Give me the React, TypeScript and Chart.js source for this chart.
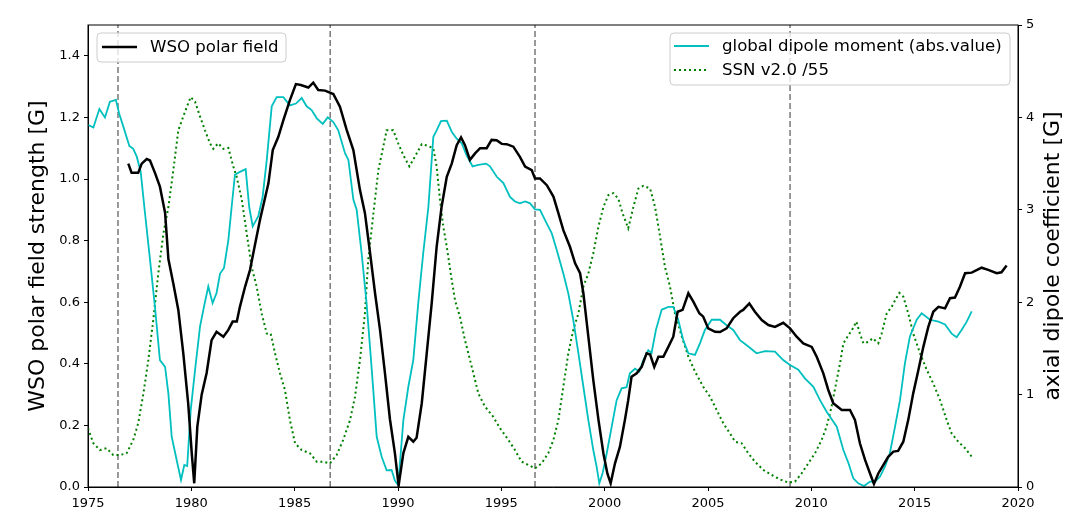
import { useEffect, useRef } from "react";
import { Chart, registerables } from "chart.js";

Chart.register(...registerables);

// WSO polar field strength [G], left axis
const wsoYears = [
  1976.95, 1977.11, 1977.43, 1977.6, 1977.84, 1978.0, 1978.24, 1978.48, 1978.73, 1978.89,
  1979.13, 1979.37, 1979.61, 1979.85, 1980.02, 1980.14, 1980.29, 1980.5, 1980.74, 1980.98,
  1981.22, 1981.55, 1981.79, 1982.0, 1982.2, 1982.35, 1982.6, 1982.84, 1983.0, 1983.32,
  1983.73, 1983.94, 1984.21, 1984.45, 1984.77, 1985.06, 1985.3, 1985.66, 1985.9, 1986.14,
  1986.47, 1986.87, 1987.19, 1987.52, 1987.84, 1988.16, 1988.4, 1988.65, 1988.89, 1989.13,
  1989.37, 1989.61, 1989.85, 1990.03, 1990.26, 1990.5, 1990.74, 1990.9, 1991.15, 1991.39,
  1991.63, 1991.87, 1992.11, 1992.36, 1992.6, 1992.84, 1993.05, 1993.24, 1993.48, 1993.73,
  1993.97, 1994.29, 1994.53, 1994.77, 1995.02, 1995.26, 1995.58, 1995.9, 1996.15, 1996.47,
  1996.63, 1996.87, 1997.2, 1997.52, 1997.76, 1998.0, 1998.32, 1998.57, 1998.81, 1998.97,
  1999.21, 1999.45, 1999.7, 1999.94, 2000.13, 2000.29, 2000.5, 2000.74, 2000.98, 2001.14,
  2001.3, 2001.55, 2001.79, 2002.03, 2002.2, 2002.4, 2002.6, 2002.84, 2003.08, 2003.32,
  2003.53, 2003.77, 2004.05, 2004.29, 2004.58, 2004.77, 2005.01, 2005.34, 2005.58, 2005.9,
  2006.22, 2006.55, 2006.7, 2007.0, 2007.27, 2007.6, 2007.92, 2008.24, 2008.64, 2008.97,
  2009.29, 2009.61, 2010.02, 2010.26, 2010.58, 2010.82, 2011.06, 2011.47, 2011.87, 2012.11,
  2012.35, 2012.6, 2012.84, 2013.03, 2013.24, 2013.48, 2013.72, 2013.97, 2014.2, 2014.45,
  2014.69, 2014.93, 2015.18, 2015.42, 2015.66, 2015.9, 2016.15, 2016.47, 2016.71, 2016.95,
  2017.19, 2017.44, 2017.76, 2018.24, 2018.56, 2018.97, 2019.2, 2019.45,
];
const wsoValues = [
  1.05, 1.02, 1.02, 1.05, 1.065, 1.06, 1.02, 0.975, 0.89, 0.74,
  0.66, 0.575, 0.435, 0.27, 0.11, 0.012, 0.196, 0.3, 0.37, 0.477,
  0.504, 0.488, 0.51, 0.537, 0.537, 0.585, 0.65, 0.705, 0.76, 0.867,
  0.986, 1.094, 1.137, 1.19, 1.256, 1.308, 1.305, 1.297, 1.313, 1.289,
  1.287, 1.276, 1.235, 1.159, 1.094, 0.964, 0.889, 0.759, 0.629, 0.51,
  0.369, 0.22, 0.11, 0.005, 0.11, 0.163, 0.147, 0.16, 0.272, 0.434,
  0.596, 0.78, 0.91, 1.007, 1.05, 1.11, 1.135, 1.11, 1.062, 1.083,
  1.1, 1.1, 1.127, 1.126, 1.114, 1.113, 1.105, 1.072, 1.04, 1.029,
  1.002, 1.002, 0.98, 0.943, 0.889, 0.834, 0.78, 0.726, 0.694, 0.629,
  0.488, 0.347, 0.218, 0.109, 0.044, 0.012, 0.077, 0.131, 0.218, 0.282,
  0.358, 0.369, 0.39, 0.434, 0.43, 0.39, 0.423, 0.423, 0.455, 0.488,
  0.569, 0.575, 0.629, 0.602, 0.564, 0.553, 0.515, 0.504, 0.503, 0.515,
  0.548, 0.569, 0.575, 0.596, 0.569, 0.542, 0.526, 0.52, 0.533, 0.515,
  0.488, 0.466, 0.455, 0.423, 0.369, 0.315, 0.272, 0.25, 0.25, 0.218,
  0.142, 0.088, 0.044, 0.01, 0.044, 0.071, 0.098, 0.115, 0.117, 0.147,
  0.218, 0.304, 0.38, 0.455, 0.52, 0.569, 0.585, 0.58, 0.613, 0.615,
  0.65, 0.694, 0.696, 0.712, 0.705, 0.694, 0.697, 0.719,
];

// global dipole moment (abs. value) [G], right axis
const dipoleYears = [
  1975.0, 1975.26, 1975.55, 1975.82, 1976.06, 1976.35, 1976.52, 1976.71, 1977.0, 1977.19,
  1977.36, 1977.55, 1977.76, 1978.0, 1978.24, 1978.48, 1978.73, 1978.89, 1979.05, 1979.29,
  1979.5, 1979.66, 1979.8, 1979.97, 1980.18, 1980.42, 1980.61, 1980.82, 1981.03, 1981.22,
  1981.39, 1981.58, 1981.79, 1981.95, 1982.11, 1982.35, 1982.63, 1982.8, 1982.97, 1983.24,
  1983.45, 1983.65, 1983.89, 1984.13, 1984.45, 1984.77, 1985.06, 1985.34, 1985.58, 1985.82,
  1986.07, 1986.36, 1986.6, 1986.87, 1987.11, 1987.44, 1987.6, 1987.84, 1988.0, 1988.24,
  1988.48, 1988.73, 1988.97, 1989.21, 1989.45, 1989.69, 1989.85, 1990.01, 1990.26, 1990.5,
  1990.74, 1990.98, 1991.22, 1991.47, 1991.71, 1991.87, 1992.08, 1992.36, 1992.6, 1992.84,
  1993.08, 1993.32, 1993.61, 1993.89, 1994.26, 1994.45, 1994.77, 1995.1, 1995.42, 1995.66,
  1995.9, 1996.15, 1996.39, 1996.63, 1996.87, 1997.2, 1997.44, 1997.68, 1998.0, 1998.24,
  1998.48, 1998.73, 1998.97, 1999.21, 1999.45, 1999.61, 1999.74, 1999.9, 2000.1, 2000.34,
  2000.58, 2000.82, 2001.06, 2001.22, 2001.47, 2001.68, 2001.87, 2002.11, 2002.27, 2002.48,
  2002.76, 2003.08, 2003.32, 2003.56, 2003.8, 2004.05, 2004.37, 2004.61, 2004.85, 2005.18,
  2005.58, 2005.9, 2006.22, 2006.55, 2006.95, 2007.35, 2007.76, 2008.24, 2008.64, 2008.97,
  2009.37, 2009.69, 2010.1, 2010.42, 2010.74, 2011.23, 2011.55, 2011.8, 2012.03, 2012.27,
  2012.55, 2012.84, 2013.08, 2013.32, 2013.56, 2013.8, 2014.05, 2014.29, 2014.53, 2014.77,
  2015.1, 2015.34, 2015.74, 2016.15, 2016.47, 2016.79, 2017.03, 2017.27, 2017.52, 2017.76,
];
const dipoleValues = [
  3.92, 3.89, 4.09, 4.0, 4.17, 4.19, 4.03, 3.9, 3.69, 3.66,
  3.575, 3.41, 2.96, 2.46, 1.95, 1.374, 1.3, 1.01, 0.544, 0.292,
  0.076, 0.238, 0.227, 0.833, 1.266, 1.735, 1.95, 2.17, 1.99, 2.1,
  2.31, 2.37, 2.67, 3.03, 3.38, 3.41, 3.44, 3.03, 2.82, 2.93,
  3.14, 3.54, 4.12, 4.22, 4.22, 4.13, 4.15, 4.21, 4.12, 4.08,
  3.99, 3.93, 4.0, 3.95, 3.86, 3.61, 3.54, 3.11, 3.0, 2.53,
  1.99, 1.27, 0.544, 0.328, 0.18, 0.184, 0.07, 0.02, 0.725, 1.085,
  1.374, 1.99, 2.53, 3.03, 3.79, 3.86, 3.96, 3.964, 3.845, 3.77,
  3.72, 3.59, 3.47, 3.485, 3.5, 3.47, 3.36, 3.29, 3.14, 3.09,
  3.07, 3.09, 3.07, 3.005, 3.0, 2.85, 2.745, 2.565, 2.31, 2.096,
  1.81, 1.447, 1.085, 0.725, 0.4, 0.22, 0.04, 0.148, 0.365, 0.653,
  0.94, 1.068, 1.08, 1.23, 1.28, 1.25, 1.374, 1.48, 1.45, 1.7,
  1.92, 1.95, 1.95, 1.81, 1.59, 1.447, 1.43, 1.555, 1.7, 1.81,
  1.81, 1.75, 1.7, 1.59, 1.52, 1.447, 1.47, 1.465, 1.374, 1.32,
  1.27, 1.176, 1.085, 0.94, 0.815, 0.653, 0.4, 0.256, 0.094, 0.04,
  0.01, 0.058, 0.058, 0.11, 0.22, 0.365, 0.653, 0.94, 1.34, 1.63,
  1.81, 1.88, 1.81, 1.79, 1.76, 1.66, 1.62, 1.7, 1.79, 1.9,
];

// SSN v2.0 / 55, right axis
const ssnYears = [
  1975.0, 1975.26, 1975.58, 1975.9, 1976.22, 1976.55, 1976.87, 1977.19, 1977.43, 1977.68,
  1977.92, 1978.16, 1978.4, 1978.65, 1978.89, 1979.13, 1979.37, 1979.61, 1979.81, 1979.97,
  1980.18, 1980.42, 1980.66, 1980.9, 1981.06, 1981.3, 1981.55, 1981.79, 1982.03, 1982.19,
  1982.44, 1982.68, 1982.92, 1983.16, 1983.4, 1983.65, 1983.84, 1984.05, 1984.29, 1984.53,
  1984.77, 1985.02, 1985.34, 1985.74, 1986.07, 1986.39, 1986.71, 1987.03, 1987.35, 1987.68,
  1987.92, 1988.16, 1988.4, 1988.56, 1988.81, 1989.05, 1989.21, 1989.45, 1989.77, 1990.01,
  1990.26, 1990.55, 1990.82, 1991.15, 1991.47, 1991.71, 1991.87, 1992.03, 1992.19, 1992.36,
  1992.6, 1992.76, 1993.0, 1993.24, 1993.57, 1993.89, 1994.21, 1994.61, 1994.94, 1995.34,
  1995.66, 1995.98, 1996.31, 1996.63, 1996.95, 1997.27, 1997.52, 1997.76, 1998.0, 1998.24,
  1998.48, 1998.73, 1998.97, 1999.21, 1999.45, 1999.7, 1999.94, 2000.18, 2000.42, 2000.66,
  2000.87, 2001.14, 2001.39, 2001.63, 2001.87, 2002.2, 2002.44, 2002.68, 2002.92, 2003.16,
  2003.4, 2003.73, 2004.05, 2004.37, 2004.77, 2005.1, 2005.42, 2005.74, 2006.06, 2006.31,
  2006.63, 2006.95, 2007.27, 2007.68, 2008.08, 2008.48, 2008.89, 2009.21, 2009.53, 2009.85,
  2010.18, 2010.5, 2010.74, 2010.98, 2011.23, 2011.39, 2011.55, 2011.8, 2011.97, 2012.18,
  2012.35, 2012.52, 2012.76, 2012.97, 2013.24, 2013.4, 2013.65, 2013.89, 2014.05, 2014.26,
  2014.45, 2014.69, 2014.93, 2015.26, 2015.58, 2015.9, 2016.23, 2016.55, 2016.79, 2017.11,
  2017.44, 2017.76,
];
const ssnValues = [
  0.635, 0.473, 0.4, 0.42, 0.346, 0.346, 0.365, 0.51, 0.69, 1.01,
  1.374, 1.81, 2.31, 2.745, 3.03, 3.43, 3.86, 4.01, 4.13, 4.22,
  4.17, 4.01, 3.86, 3.72, 3.66, 3.72, 3.66, 3.67, 3.47, 3.36,
  3.11, 2.745, 2.38, 2.17, 1.88, 1.66, 1.66, 1.447, 1.23, 1.05,
  0.725, 0.473, 0.4, 0.365, 0.274, 0.274, 0.256, 0.346, 0.51, 0.725,
  0.977, 1.374, 1.88, 2.46, 2.96, 3.43, 3.6, 3.86, 3.86, 3.72,
  3.59, 3.47, 3.575, 3.71, 3.69, 3.665, 3.47, 3.11, 2.82, 2.6,
  2.24, 2.02, 1.84, 1.59, 1.3, 1.01, 0.87, 0.76, 0.635, 0.51,
  0.4, 0.274, 0.238, 0.202, 0.256, 0.365, 0.51, 0.725, 1.085, 1.447,
  1.7, 1.88, 2.17, 2.31, 2.53, 2.82, 3.03, 3.16, 3.18, 3.12,
  2.96, 2.8, 3.03, 3.23, 3.26, 3.23, 3.03, 2.71, 2.38, 2.17,
  1.88, 1.63, 1.41, 1.25, 1.085, 0.977, 0.833, 0.69, 0.58, 0.49,
  0.473, 0.365, 0.274, 0.184, 0.13, 0.083, 0.047, 0.058, 0.148, 0.256,
  0.365, 0.51, 0.653, 0.87, 1.16, 1.34, 1.555, 1.645, 1.7, 1.79,
  1.66, 1.555, 1.57, 1.61, 1.555, 1.66, 1.88, 1.95, 2.02, 2.1,
  2.06, 1.88, 1.66, 1.447, 1.27, 1.12, 0.94, 0.725, 0.58, 0.49,
  0.42, 0.328,
];

// cycle minima, dashed vertical lines
const cycleMinima = [1976.45, 1986.72, 1996.63, 2008.97];

const xTicks = [1975, 1980, 1985, 1990, 1995, 2000, 2005, 2010, 2015, 2020];
const leftTicks = [0, 0.2, 0.4, 0.6, 0.8, 1.0, 1.2, 1.4];
const rightTicks = [0, 1, 2, 3, 4, 5];

const FONT = '"DejaVu Sans", sans-serif';

const pts = (xs: number[], ys: number[]) => xs.map((x, i) => ({ x, y: ys[i] }));

const overlayPlugin = {
  id: "overlay",
  afterDraw(chart: Chart) {
    const { ctx, chartArea: a } = chart;
    ctx.save();
    ctx.strokeStyle = "#000";
    ctx.lineWidth = 1;
    ctx.strokeRect(a.left, a.top, a.right - a.left, a.bottom - a.top);

    ctx.fillStyle = "#000";
    ctx.font = `22px ${FONT}`;
    ctx.textAlign = "center";
    ctx.textBaseline = "middle";
    const midY = (a.top + a.bottom) / 2;
    ctx.save();
    ctx.translate(38, midY);
    ctx.rotate(-Math.PI / 2);
    ctx.fillText("WSO polar field strength [G]", 0, 0);
    ctx.restore();
    ctx.save();
    ctx.translate(1053, midY);
    ctx.rotate(-Math.PI / 2);
    ctx.fillText("axial dipole coefficient [G]", 0, 0);
    ctx.restore();

    const box = (x: number, y: number, w: number, h: number) => {
      ctx.beginPath();
      ctx.roundRect(x, y, w, h, 4);
      ctx.fillStyle = "rgba(255,255,255,0.8)";
      ctx.fill();
      ctx.strokeStyle = "#cccccc";
      ctx.lineWidth = 1;
      ctx.stroke();
    };
    const entry = (x: number, y: number, color: string, width: number, dash: number[], label: string) => {
      ctx.beginPath();
      ctx.setLineDash(dash);
      ctx.strokeStyle = color;
      ctx.lineWidth = width;
      ctx.moveTo(x, y);
      ctx.lineTo(x + 35, y);
      ctx.stroke();
      ctx.setLineDash([]);
      ctx.fillStyle = "#000";
      ctx.font = `16.6px ${FONT}`;
      ctx.textAlign = "left";
      ctx.textBaseline = "middle";
      ctx.fillText(label, x + 48, y + 1);
    };
    box(97, 33, 189, 29);
    entry(102, 47, "#000000", 2.5, [], "WSO polar field");
    box(670, 33, 340, 52);
    entry(674, 46, "#00bfbf", 1.8, [], "global dipole moment (abs.value)");
    entry(674, 70, "#008000", 2, [2, 3], "SSN v2.0 /55");
    ctx.restore();
  },
};

export default function App() {
  const canvasRef = useRef<HTMLCanvasElement>(null);
  const chartRef = useRef<Chart | null>(null);

  useEffect(() => {
    if (!canvasRef.current) return;
    if (chartRef.current) chartRef.current.destroy();
    const ctx = canvasRef.current.getContext("2d");
    if (!ctx) return;

    Chart.defaults.font.family = FONT;
    Chart.defaults.color = "#000";

    const minimaSets = cycleMinima.map((m) => ({
      label: "min",
      data: [{ x: m, y: 0 }, { x: m, y: 1.5 }],
      yAxisID: "y",
      borderColor: "#808080",
      borderWidth: 1.6,
      borderDash: [6, 3],
      pointRadius: 0,
      order: 4,
    }));

    chartRef.current = new Chart(ctx, {
      type: "line",
      data: {
        datasets: [
          {
            label: "WSO polar field",
            data: pts(wsoYears, wsoValues),
            yAxisID: "y",
            borderColor: "#000000",
            borderWidth: 2.5,
            pointRadius: 0,
            order: 0,
          },
          {
            label: "global dipole moment (abs.value)",
            data: pts(dipoleYears, dipoleValues),
            yAxisID: "y2",
            borderColor: "#00bfbf",
            borderWidth: 1.8,
            pointRadius: 0,
            order: 2,
          },
          {
            label: "SSN v2.0 /55",
            data: pts(ssnYears, ssnValues),
            yAxisID: "y2",
            borderColor: "#008000",
            borderWidth: 2,
            borderDash: [2, 3],
            pointRadius: 0,
            order: 3,
          },
          ...minimaSets,
        ],
      },
      options: {
        animation: false,
        responsive: true,
        maintainAspectRatio: false,
        layout: { padding: { top: 25, left: 0, right: 0, bottom: 0 } },
        plugins: { legend: { display: false }, tooltip: { enabled: false } },
        elements: { line: { tension: 0 } },
        scales: {
          x: {
            type: "linear",
            min: 1975,
            max: 2020,
            afterBuildTicks: (s: any) => { s.ticks = xTicks.map((v) => ({ value: v })); },
            afterFit: (s: any) => { s.height = 42; },
            ticks: { callback: (v: any) => String(v), font: { size: 13 }, padding: 5, maxRotation: 0, autoSkip: false },
            grid: { drawOnChartArea: false, drawTicks: true, tickLength: 4, color: "#000" },
            border: { display: true, color: "#000" },
          },
          y: {
            type: "linear",
            position: "left",
            min: 0,
            max: 1.5,
            afterBuildTicks: (s: any) => { s.ticks = leftTicks.map((v) => ({ value: v })); },
            afterFit: (s: any) => { s.width = 88; },
            ticks: { callback: (v: any) => Number(v).toFixed(1), font: { size: 13 }, padding: 4 },
            grid: { drawOnChartArea: false, drawTicks: true, tickLength: 4, color: "#000" },
            border: { display: true, color: "#000" },
          },
          y2: {
            type: "linear",
            position: "right",
            min: 0,
            max: 5,
            afterBuildTicks: (s: any) => { s.ticks = rightTicks.map((v) => ({ value: v })); },
            afterFit: (s: any) => { s.width = 73; },
            ticks: { callback: (v: any) => String(v), font: { size: 13 }, padding: 4 },
            grid: { drawOnChartArea: false, drawTicks: true, tickLength: 4, color: "#000" },
            border: { display: true, color: "#000" },
          },
        },
      },
      plugins: [overlayPlugin],
    });

    return () => {
      chartRef.current?.destroy();
      chartRef.current = null;
    };
  }, []);

  return (
    <div style={{ position: "absolute", left: 0, top: 0, width: 1091, height: 529, background: "#fff" }}>
      <canvas ref={canvasRef} />
    </div>
  );
}
